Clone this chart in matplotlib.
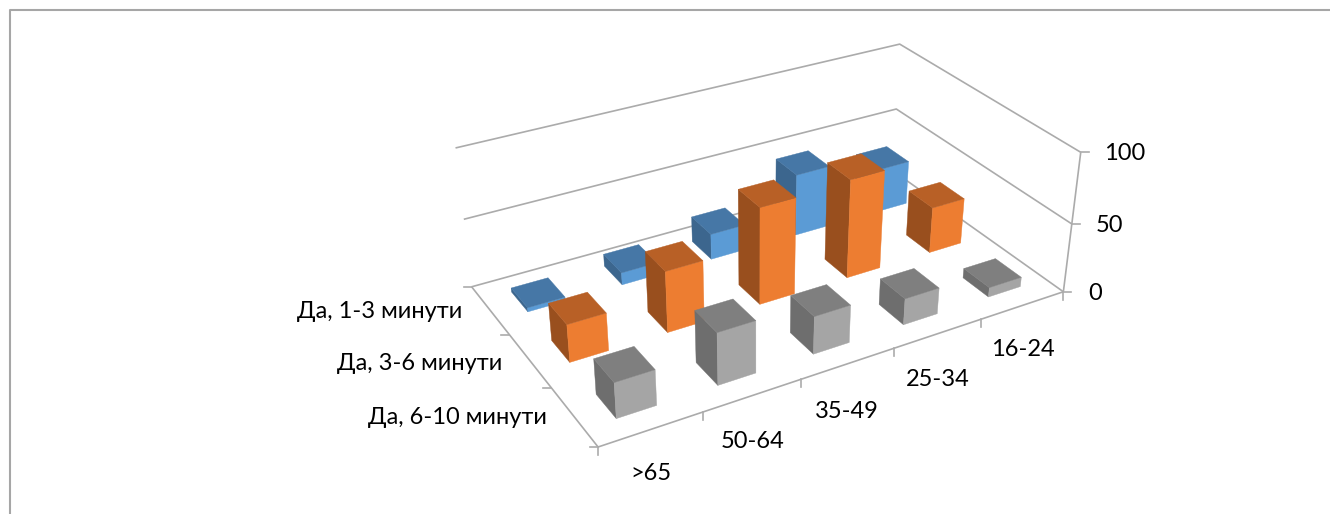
import numpy as np
import matplotlib
matplotlib.use("Agg")
import matplotlib.pyplot as plt
from matplotlib.patches import Polygon

plt.rcParams['font.family'] = ['Lato', 'Open Sans', 'DejaVu Sans']

# Chart data
ages = ['>65', '50-64', '35-49', '25-34', '16-24']
answers = ['Да, 6-10 минути', 'Да, 3-6 минути', 'Да, 1-3 минути']
long_answers = [25, 37, 27, 19, 7]
mid_answers = [27, 44, 70, 72, 34]
short_answers = [3, 9, 19, 46, 33]
z_ticks = [0, 50, 100]

series = [long_answers, mid_answers, short_answers]
face_colors = [
    {'front': '#A5A5A5', 'top': '#7F7F7F', 'side': '#6E6E6E'},
    {'front': '#ED7D31', 'top': '#B86026', 'side': '#994F1E'},
    {'front': '#5B9BD5', 'top': '#4677A6', 'side': '#3C668E'},
]
LINE = '#ABABAB'
TEXT = '#000000'
BAR_U = 0.39
BAR_V = 0.42

# Perspective camera: world points (age, answer, value) and where they land on the canvas
world = np.array([
    (0, 0, 0), (5, 0, 0), (0, 3, 0), (5, 3, 0),
    (5, 0, 50), (5, 3, 50), (0, 3, 50),
    (5, 0, 100), (5, 3, 100), (0, 3, 100),
], float)
canvas = np.array([
    (598, 447), (1063, 292), (472, 287), (893, 171),
    (1072, 223), (897, 109), (463, 219),
    (1081, 153), (899, 44), (456, 148),
], float)


def fit_camera(w, c):
    rows, rhs = [], []
    for (x, y, z), (px, py) in zip(w, c):
        rows.append([x, y, z, 1, 0, 0, 0, 0, -px * x, -px * y, -px * z])
        rhs.append(px)
        rows.append([0, 0, 0, 0, x, y, z, 1, -py * x, -py * y, -py * z])
        rhs.append(py)
    sol = np.linalg.lstsq(np.array(rows), np.array(rhs), rcond=None)[0]
    return np.append(sol, 1).reshape(3, 4)


CAM = fit_camera(world, canvas)


def project(x, y, z):
    p = CAM @ np.array([x, y, z, 1.0])
    return p[0] / p[2], p[1] / p[2]


fig = plt.figure(figsize=(13.3, 5.14), dpi=100)
ax = fig.add_axes([0, 0, 1, 1])
ax.set_xlim(0, 1330)
ax.set_ylim(514, 0)
ax.axis('off')

# Outer chart frame, open towards the right and the bottom
ax.plot([10, 10, 1330], [514, 10, 10], color='#A6A6A6', lw=1.5, zorder=1)


def path(points):
    xy = np.array([project(*p) for p in points])
    ax.plot(xy[:, 0], xy[:, 1], color=LINE, lw=1.2, solid_capstyle='butt', zorder=2)


# Walls, floor and axis ticks
for z in z_ticks:
    path([(5, 0, z), (5, 3, z), (0, 3, z)])
path([(0, 3, 0), (0, 0, 0), (5, 0, 0)])
path([(5, 0, 0), (5, 0, 100)])

for z in z_ticks:
    x, y = project(5, 0, z)
    ax.plot([x, x + 8], [y, y], color=LINE, lw=1.2, zorder=2)
for i in range(len(ages) + 1):
    x, y = project(i, 0, 0)
    ax.plot([x, x], [y, y + 8], color=LINE, lw=1.2, zorder=2)
for j in range(len(answers) + 1):
    x, y = project(0, j, 0)
    ax.plot([x - 8, x], [y, y], color=LINE, lw=1.2, zorder=2)

# Bars, painted from the far row to the near one
z_order = 3
for j in reversed(range(len(series))):
    for i in reversed(range(len(ages))):
        v = series[j][i]
        u0 = i + (1 - BAR_U) / 2
        u1 = u0 + BAR_U
        v0 = j + (1 - BAR_V) / 2
        v1 = v0 + BAR_V
        faces = {
            'side': [(u0, v0, 0), (u0, v1, 0), (u0, v1, v), (u0, v0, v)],
            'front': [(u0, v0, 0), (u1, v0, 0), (u1, v0, v), (u0, v0, v)],
            'top': [(u0, v0, v), (u1, v0, v), (u1, v1, v), (u0, v1, v)],
        }
        for name, corners in faces.items():
            ax.add_patch(Polygon([project(*c) for c in corners], closed=True,
                                 facecolor=face_colors[j][name], edgecolor=face_colors[j][name],
                                 lw=0.3, zorder=z_order))
        z_order += 1

# Axis labels
FS = 17
for label, (x, y) in zip(ages, [(651, 473), (753, 442), (847, 411), (938, 380), (1023, 350)]):
    ax.text(x, y, label, ha='center', va='center', fontsize=FS, color=TEXT, zorder=50)
for label, (x, y) in zip(answers, [(547, 418), (502, 363), (462, 311)]):
    ax.text(x, y, label, ha='right', va='center', fontsize=FS, color=TEXT, zorder=50)
for label, (x, y) in zip(z_ticks, [(1088, 293), (1096, 225), (1104, 153)]):
    ax.text(x, y, str(label), ha='left', va='center', fontsize=FS, color=TEXT, zorder=50)

fig.savefig('out.png', dpi=100)
